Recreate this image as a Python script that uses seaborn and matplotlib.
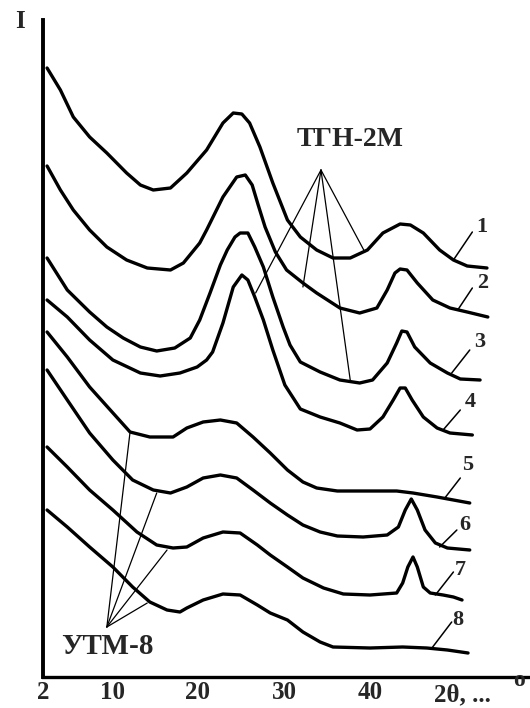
import matplotlib
matplotlib.use("Agg")
import matplotlib.pyplot as plt
import seaborn as sns
import pandas as pd

# 2theta (deg) and intensity (arb. units, curves stacked)
tt1 = [2.45, 4.0, 5.5, 7.4, 9.4, 11.7, 13.3, 14.8, 16.8, 18.7, 21.0, 22.9, 24.1, 25.1, 26.0, 27.2,
       28.7, 30.4, 31.9, 33.8, 35.7, 37.7, 39.7, 41.5, 43.5, 44.7, 46.2, 48.1, 49.7, 51.3, 53.6]
i1 = [609, 587, 560, 540, 524, 504, 492, 487, 489, 504, 527, 554, 564, 563, 554, 530,
      494, 457, 440, 427, 419, 419, 427, 444, 453, 452, 444, 427, 417, 411, 409]

tt2 = [2.45, 4.0, 5.5, 7.4, 9.4, 11.7, 14.1, 16.8, 18.3, 20.2, 21.0, 22.9, 24.5, 25.5, 26.3, 27.0, 27.8,
       29.0, 30.3, 32.2, 33.8, 36.5, 38.8, 40.8, 42.0, 42.9, 43.5, 44.3, 45.5, 47.3, 49.3, 51.3, 53.7]
i2 = [511, 487, 467, 447, 430, 417, 409, 407, 414, 434, 447, 480, 500, 502, 492, 472, 450,
      425, 407, 394, 384, 369, 364, 369, 387, 404, 408, 407, 394, 377, 369, 365, 360]

tt3 = [2.45, 4.8, 7.4, 9.4, 11.3, 13.3, 15.2, 17.3, 19.1, 20.2, 21.4, 22.6, 23.4, 24.3, 24.9, 25.8, 26.6, 27.6,
       28.7, 29.9, 30.7, 31.9, 34.2, 36.5, 38.8, 40.3, 42.0, 43.1, 43.7, 44.3, 45.2, 47.0, 49.0, 50.5, 52.8]
i3 = [419, 387, 365, 350, 339, 330, 326, 329, 339, 357, 384, 412, 427, 440, 444, 444, 430, 410,
      380, 350, 332, 315, 305, 297, 294, 297, 314, 334, 346, 345, 330, 314, 304, 298, 297]

tt4 = [2.45, 4.8, 7.4, 10.1, 13.3, 15.6, 17.9, 19.9, 21.0, 21.7, 22.9, 24.1, 25.1, 25.8, 26.6, 27.6,
       28.7, 30.1, 31.9, 34.2, 36.5, 38.5, 40.0, 41.5, 42.7, 43.5, 44.1, 44.9, 46.2, 47.8, 49.3, 51.9]
i4 = [377, 360, 337, 317, 304, 301, 304, 310, 317, 325, 354, 390, 402, 397, 380, 357,
      327, 292, 268, 260, 254, 247, 248, 260, 277, 289, 289, 277, 260, 249, 244, 242]

tt5 = [2.45, 4.8, 7.4, 9.8, 12.1, 14.4, 17.1, 18.7, 20.6, 22.6, 24.5, 26.4, 28.4, 30.4, 32.2, 33.8,
       36.2, 40.0, 43.1, 45.0, 47.8, 51.6]
i5 = [345, 320, 290, 267, 245, 240, 240, 249, 255, 257, 254, 240, 224, 207, 195, 189,
      186, 186, 186, 184, 180, 174]

tt6 = [2.45, 4.8, 7.4, 10.1, 12.4, 14.8, 16.8, 18.7, 20.6, 22.6, 24.5, 26.4, 28.4, 30.4, 32.2, 34.2,
       36.2, 39.2, 42.0, 43.3, 44.1, 44.8, 45.5, 46.4, 47.6, 49.0, 51.6]
i6 = [307, 277, 244, 217, 197, 187, 184, 190, 199, 202, 199, 187, 174, 162, 152, 145,
      141, 140, 142, 150, 167, 178, 167, 147, 134, 129, 127]

tt7 = [2.45, 4.8, 7.4, 10.1, 12.9, 15.2, 17.1, 18.7, 20.6, 22.9, 24.9, 26.9, 28.4, 30.4, 32.2, 34.6,
       36.9, 40.0, 43.1, 43.8, 44.4, 45.0, 45.5, 46.2, 47.0, 48.5, 49.7, 50.7]
i7 = [230, 210, 187, 167, 145, 132, 129, 130, 139, 145, 144, 132, 122, 110, 99, 89,
      83, 82, 84, 94, 110, 120, 110, 90, 84, 82, 80, 77]

tt8 = [2.45, 4.8, 7.4, 10.1, 12.4, 14.4, 16.4, 17.9, 18.7, 20.6, 22.9, 24.9, 26.9, 28.4, 30.4, 32.2,
       34.2, 35.7, 40.0, 43.8, 46.6, 49.0, 51.4]
i8 = [167, 150, 130, 110, 90, 75, 67, 65, 69, 77, 83, 82, 72, 64, 57, 45,
      35, 30, 29, 30, 29, 27, 24]

curves = [(tt1, i1), (tt2, i2), (tt3, i3), (tt4, i4), (tt5, i5), (tt6, i6), (tt7, i7), (tt8, i8)]
curve_names = ["1", "2", "3", "4", "5", "6", "7", "8"]

# number labels with their leader lines: label centre, line top, line bottom
label_pos = [(53.0, 450), (53.1, 394), (52.8, 335), (51.6, 275), (51.3, 212), (51.0, 152), (50.5, 107), (50.2, 57)]
leader_top = [(51.9, 445), (51.9, 389), (51.6, 327), (50.5, 267), (50.5, 199), (50.1, 147), (49.7, 105), (49.5, 55)]
leader_end = [(49.7, 417), (50.2, 367), (49.5, 304), (48.5, 247), (48.7, 179), (48.1, 130), (47.6, 82), (47.2, 29)]

# pointer stars for the two samples
tgn_apex = (34.3, 507)
tgn_ends = [(26.7, 384), (32.2, 390), (37.7, 297), (39.4, 425)]
tgn_text = (37.7, 537)
utm_apex = (9.4, 50)
utm_ends = [(12.1, 245), (15.2, 184), (16.4, 127), (14.1, 74)]
utm_text = (9.5, 30)

xticks = [2, 10, 20, 30, 40, 50]
xticklabels = ["2", "10", "20", "30", "40", ""]

rows = []
for name, (tt, ii) in zip(curve_names, curves):
    for a, b in zip(tt, ii):
        rows.append({"2theta": a, "I": b, "curve": name})
df = pd.DataFrame(rows)

sns.set_style("white")
plt.rcParams["font.family"] = ["Liberation Serif", "DejaVu Serif"]
plt.rcParams["font.weight"] = "bold"

fig = plt.figure(figsize=(5.3, 7.08), dpi=100)
ax = fig.add_axes([43.2 / 530, 31 / 708, 486.8 / 530, 657 / 708])

sns.lineplot(data=df, x="2theta", y="I", units="curve", estimator=None, sort=False,
             color="black", lw=2.4, ax=ax, legend=False,
             solid_joinstyle="round", solid_capstyle="round")

for (lx, ly), (tx, ty), (ex, ey), name in zip(label_pos, leader_top, leader_end, curve_names):
    ax.plot([tx, ex], [ty, ey], color="black", lw=1.1)
    ax.text(lx, ly, name, fontsize=16, fontweight="bold", ha="center", va="center")

for ex, ey in tgn_ends:
    ax.plot([tgn_apex[0], ex], [tgn_apex[1], ey], color="black", lw=0.9)
for ex, ey in utm_ends:
    ax.plot([utm_apex[0], ex], [utm_apex[1], ey], color="black", lw=0.9)
ax.text(*tgn_text, "ТГН-2М", fontsize=20, fontweight="bold", ha="center", va="center")
ax.text(*utm_text, "УТМ-8", fontsize=21, fontweight="bold", ha="center", va="center")

ax.set_xlim(2, 2 + 486.8 / 8.6)
ax.set_ylim(0, 657)
ax.set_xticks(xticks)
ax.set_xticklabels(xticklabels, fontsize=18, fontweight="bold")
ax.set_yticks([])
ax.tick_params(axis="x", direction="in", length=6, width=2, pad=3, color="black")
ax.set_xlabel("")
ax.set_ylabel("")
for s in ["top", "right"]:
    ax.spines[s].set_visible(False)
ax.spines["left"].set_linewidth(2.8)
ax.spines["bottom"].set_linewidth(2.4)
ax.spines["left"].set_color("black")
ax.spines["bottom"].set_color("black")

ax.text(50.8, -18, "2θ, ...", fontsize=18, fontweight="bold", ha="center", va="center", clip_on=False)
ax.text(57.3, -4, "o", fontsize=17, fontweight="bold", ha="center", va="center", clip_on=False)
ax.text(-0.7, 655, "I", fontsize=18, fontweight="bold", ha="center", va="center", clip_on=False)

fig.savefig("out.png", dpi=100)
